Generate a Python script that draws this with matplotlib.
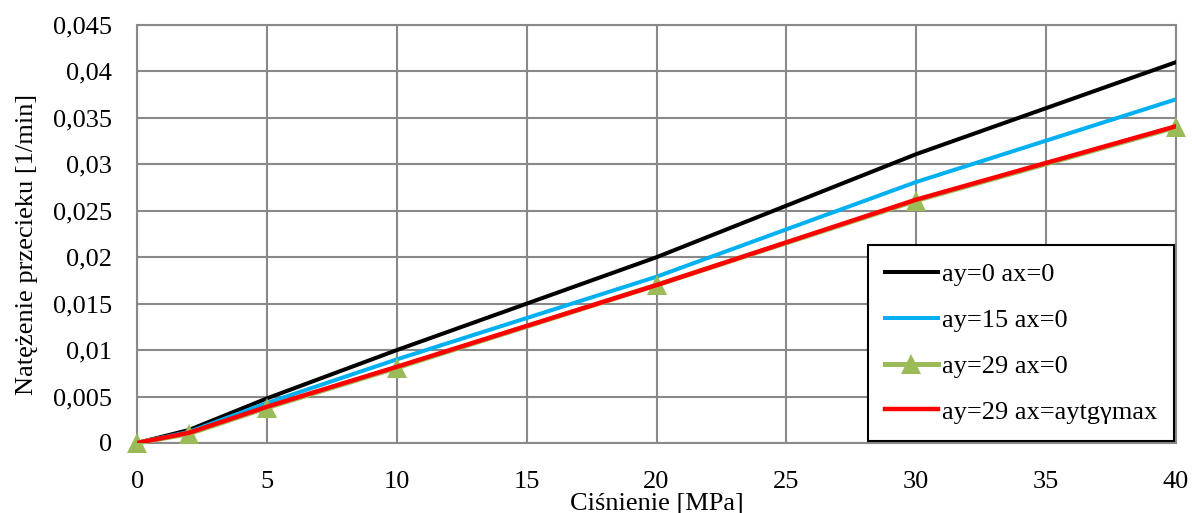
import matplotlib.pyplot as plt
import numpy as np

plt.rcParams['font.family'] = ['Liberation Serif', 'DejaVu Serif']

# dane
cisnienie = [0, 2, 5, 10, 20, 30, 40]
ay0_ax0 = [0, 0.0014, 0.0048, 0.0100, 0.0200, 0.0311, 0.0410]
ay15_ax0 = [0, 0.0012, 0.0043, 0.0090, 0.0179, 0.0281, 0.0370]
ay29_ax0 = [0, 0.0010, 0.0038, 0.0081, 0.0170, 0.0261, 0.0340]
ay29_axmax = [0, 0.0011, 0.0039, 0.0082, 0.0170, 0.0262, 0.0341]

x_ticks = [0, 5, 10, 15, 20, 25, 30, 35, 40]
y_ticks = [0, 0.005, 0.01, 0.015, 0.02, 0.025, 0.03, 0.035, 0.04, 0.045]
y_labels = ['0', '0,005', '0,01', '0,015', '0,02', '0,025', '0,03', '0,035', '0,04', '0,045']

fig = plt.figure(figsize=(11.92, 5.13), dpi=100)
ax = fig.add_axes([0.115, 0.1365, 0.8716, 0.8148])

GRID = '#898989'
FS = 19

ax.plot(cisnienie, ay0_ax0, color='black', lw=2.9, label='ay=0 ax=0', zorder=3)
ax.plot(cisnienie, ay15_ax0, color='#00B0F0', lw=2.9, label='ay=15 ax=0', zorder=3)
ax.plot(cisnienie, ay29_ax0, color='#9BBB59', lw=3.6, marker='^', markersize=15,
        markeredgewidth=0, label='ay=29 ax=0', zorder=3, clip_on=False)
ax.plot(cisnienie, ay29_axmax, color='#FF0000', lw=3.2, label='ay=29 ax=aytg\u03b3max', zorder=4)

ax.set_xlim(0, 40)
ax.set_ylim(0, 0.045)
ax.set_xticks(x_ticks)
ax.set_yticks(y_ticks)
ax.set_yticklabels(y_labels)
ax.grid(True, color=GRID, lw=1.5)
ax.set_axisbelow(True)
for s in ax.spines.values():
    s.set_color(GRID)
    s.set_linewidth(1.5)
ax.tick_params(axis='both', length=0, labelsize=FS)
ax.tick_params(axis='x', pad=20)
ax.tick_params(axis='y', pad=18)

ax.set_xlabel('Ciśnienie [MPa]', fontsize=FS)
ax.xaxis.set_label_coords(0.5, -0.12)
ax.set_ylabel('Natężenie przecieku [1/min]', fontsize=FS)
ax.yaxis.set_label_coords(-0.095, 0.474)

leg = ax.legend(loc='lower right', bbox_to_anchor=(0.998, 0.005), borderaxespad=0,
                fontsize=FS, frameon=True, fancybox=False, edgecolor='black',
                framealpha=1, handlelength=2.0, handletextpad=0.15,
                labelspacing=0.85, borderpad=0.65)
leg.get_frame().set_linewidth(1.5)

plt.savefig('out.png', dpi=100, facecolor='white')
